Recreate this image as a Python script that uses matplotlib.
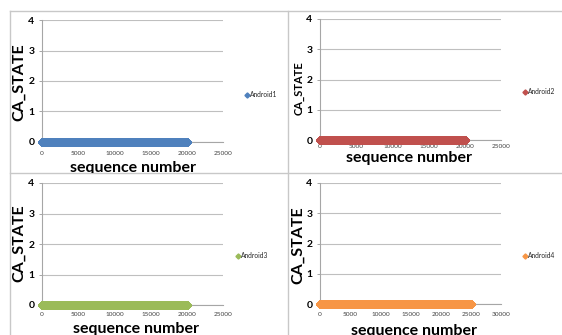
import numpy as np
import matplotlib
matplotlib.use("Agg")
import matplotlib.pyplot as plt
from matplotlib.lines import Line2D
from matplotlib.transforms import Bbox, TransformedBbox

plt.rcParams["font.family"] = ["Lato", "DejaVu Sans"]

# Devices and their logged traces
devices = ["Android1", "Android2", "Android3", "Android4"]
colors = ["#4F81BD", "#C0504D", "#9BBB59", "#F79646"]
sample_counts = [20000, 20000, 20000, 25000]   # last sequence number per device
ca_state = [0, 0, 0, 0]                        # CA_STATE value held over the whole trace
x_limits = [25000, 25000, 25000, 30000]
x_ticks = [
    [0, 5000, 10000, 15000, 20000, 25000],
    [0, 5000, 10000, 15000, 20000, 25000],
    [0, 5000, 10000, 15000, 20000, 25000],
    [0, 5000, 10000, 15000, 20000, 25000, 30000],
]
y_ticks = [0, 1, 2, 3, 4]

W, H = 562, 335
fig = plt.figure(figsize=(W / 100, H / 100), dpi=100)


def fx(px):
    return px / W


def fy(py):
    return 1 - py / H


# pixel boxes of each plot area: left, right, top(y=4), bottom(y=0)
boxes = [(42, 223, 20, 142), (320, 501, 19, 140), (42, 223, 183, 305), (320, 501, 183, 304)]
xtick_pad = [6.8, 3.2, 5.4, 6.1]
ylabel_pos = [(19, 82), (299, 88), (19, 243), (298, 245)]
ylabel_size = [11.5, 8, 11.5, 11.5]
xlabel_pos = [(133, 168), (409, 158), (136, 329), (414, 331)]
legend_pos = [(247, 95), (525, 92), (238, 256), (525, 256)]
panel_clip = [(11, 173), (11, 173), (173, 335), (173, 335)]

grid_c = "#BFBFBF"
axis_c = "#A6A6A6"

for i in range(4):
    l, r, t, b = boxes[i]
    ax = fig.add_axes([fx(l), fy(b), fx(r) - fx(l), fy(t) - fy(b)])
    n = sample_counts[i]
    seq = np.arange(1, n + 1)
    state = np.full(n, ca_state[i])
    ax.plot(seq, state, linestyle="none", marker="D", markersize=4.2,
            color=colors[i], clip_on=False, zorder=3)
    ax.set_xlim(0, x_limits[i])
    ax.set_ylim(0, 4)
    ax.set_yticks(y_ticks)
    ax.set_xticks(x_ticks[i])
    ax.set_yticklabels([str(v) for v in y_ticks], fontsize=7.5, fontweight="bold")
    ax.set_xticklabels([str(v) for v in x_ticks[i]], fontsize=4.6, color="#404040")
    ax.yaxis.grid(True, color=grid_c, linewidth=0.8)
    ax.set_axisbelow(True)
    for s in ["top", "right"]:
        ax.spines[s].set_visible(False)
    for s in ["left", "bottom"]:
        ax.spines[s].set_color(axis_c)
        ax.spines[s].set_linewidth(0.8)
    ax.tick_params(axis="y", length=2.5, width=0.7, color=axis_c, pad=3)
    ax.tick_params(axis="x", length=0, pad=xtick_pad[i])
    ax.set_facecolor("none")

    clip = TransformedBbox(Bbox([[0, fy(panel_clip[i][1])], [1, fy(panel_clip[i][0])]]),
                           fig.transFigure)
    fig.text(fx(ylabel_pos[i][0]), fy(ylabel_pos[i][1]), "CA_STATE", rotation=90,
             ha="center", va="center", fontsize=ylabel_size[i], fontweight="bold")
    xl = fig.text(fx(xlabel_pos[i][0]), fy(xlabel_pos[i][1]), "sequence number",
                  ha="center", va="center", fontsize=11.5, fontweight="bold")
    xl.set_clip_box(clip)
    xl.set_clip_on(True)

    mx, my = legend_pos[i]
    fig.add_artist(Line2D([fx(mx)], [fy(my)], marker="D", markersize=2.6, color=colors[i],
                          linestyle="none", transform=fig.transFigure))
    fig.text(fx(mx + 3), fy(my), devices[i], ha="left", va="center", fontsize=4.8,
             color="#262626")

# panel frames
frame_c = "#C8C8C8"
frame_lines = [
    ([fx(10), fx(10)], [fy(11), 0]),
    ([fx(10), 1], [fy(11), fy(11)]),
    ([fx(10), 1], [fy(173), fy(173)]),
    ([fx(288), fx(288)], [fy(11), 0]),
]
for xs, ys in frame_lines:
    fig.add_artist(Line2D(xs, ys, color=frame_c, linewidth=1.0, transform=fig.transFigure))

fig.savefig("out.png", dpi=100)
